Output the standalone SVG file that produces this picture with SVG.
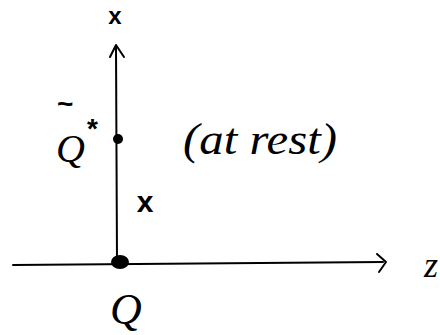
<svg xmlns="http://www.w3.org/2000/svg" width="440" height="335" viewBox="0 0 440 335">
<style>
.ax{stroke:#000;stroke-width:2;fill:none;stroke-linecap:round;stroke-linejoin:round}
.lbl{font-family:"Liberation Serif",serif;font-style:italic;fill:#000}
.sx{font-family:"Liberation Sans",sans-serif;fill:#000;font-weight:bold}
</style>
<rect width="440" height="335" fill="#fff"/>
<g id="connectors">
<path class="ax" d="M117,262 L116,46"/>
<path class="ax" d="M110,57 L116,45 L124,57"/>
<path class="ax" d="M13,265 L383,262"/>
<path class="ax" d="M377,254 L386,262 L379,272"/>
</g>
<g id="origin">
<ellipse cx="120" cy="262" rx="9" ry="7" fill="#000"/>
<text class="lbl" x="126" y="324" font-size="44" text-anchor="middle">Q</text>
</g>
<g id="charge">
<circle cx="118" cy="139" r="5" fill="#000"/>
<text class="lbl" x="56" y="162" font-size="40">Q</text>
<text class="sx" x="57" y="113" font-size="28" font-weight="normal">~</text>
<text class="sx" x="87" y="138" font-size="28">*</text>
<text class="lbl" x="183" y="154" font-size="44" textLength="154" lengthAdjust="spacingAndGlyphs">(at rest)</text>
</g>
<g id="labels">
<text class="sx" x="115" y="24" font-size="24" text-anchor="middle">x</text>
<text class="sx" x="145" y="212" font-size="30" text-anchor="middle">x</text>
<text class="lbl" x="431" y="277" font-size="36" text-anchor="middle">z</text>
</g>
</svg>
